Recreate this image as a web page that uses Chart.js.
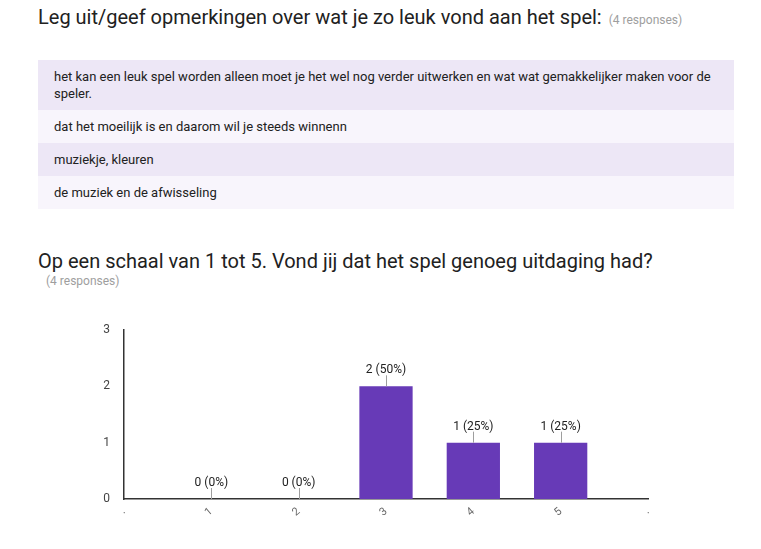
<!DOCTYPE html>
<html>
<head>
<meta charset="utf-8">
<script src="https://cdn.jsdelivr.net/npm/chart.js@4"></script>
<style>
  html, body { margin: 0; padding: 0; background: #fff; width: 761px; height: 549px; overflow: hidden; font-family: Roboto, "Noto Sans", sans-serif; color: #212121; }
  .title { position: absolute; left: 38px; font-size: 20px; white-space: nowrap; }
  .resp { color: #9e9e9e; font-size: 12px; }
  #t1 { top: 5px; }
  #t1 .resp { margin-left: 7px; }
  #rows { position: absolute; left: 38px; top: 60px; width: 696px; }
  .row { padding: 8px 16px; font-size: 13px; line-height: 17px; }
  .row:nth-child(odd) { background: #ede7f6; }
  .row:nth-child(even) { background: #f8f5fc; }
  #t2 { top: 249px; }
  #r2 { position: absolute; left: 46px; top: 274px; }
  #wrap { position: absolute; left: 0; top: 301px; width: 761px; height: 248px; }
</style>
</head>
<body>
<div class="title" id="t1">Leg uit/geef opmerkingen over wat je zo leuk vond aan het spel:<span class="resp">(4 responses)</span></div>
<div id="rows"></div>
<div class="title" id="t2">Op een schaal van 1 tot 5. Vond jij dat het spel genoeg uitdaging had?</div>
<div class="resp" id="r2">(4 responses)</div>
<div id="wrap"><canvas id="c"></canvas></div>
<script>
const responses = [
  "het kan een leuk spel worden alleen moet je het wel nog verder uitwerken en wat wat gemakkelijker maken voor de speler.",
  "dat het moeilijk is en daarom wil je steeds winnenn",
  "muziekje, kleuren",
  "de muziek en de afwisseling"
];
const tickLabels = [".", "1", "2", "3", "4", "5", "."];
const counts = [null, 0, 0, 2, 1, 1, null];
const yTicks = [0, 1, 2, 3];

const rowsEl = document.getElementById('rows');
responses.forEach(t => {
  const d = document.createElement('div');
  d.className = 'row';
  d.textContent = t;
  rowsEl.appendChild(d);
});

const total = counts.reduce((a, b) => a + (b || 0), 0);

const labelPlugin = {
  id: 'barLabels',
  afterDatasetsDraw(chart) {
    const ctx = chart.ctx;
    const meta = chart.getDatasetMeta(0);
    ctx.save();
    meta.data.forEach((el, i) => {
      const v = counts[i];
      if (v === null || v === undefined) return;
      const x = el.x, top = el.y;
      ctx.strokeStyle = '#9e9e9e';
      ctx.lineWidth = 1;
      ctx.beginPath();
      ctx.moveTo(Math.round(x) + 0.5, top - 11);
      ctx.lineTo(Math.round(x) + 0.5, top);
      ctx.stroke();
      ctx.fillStyle = '#222';
      ctx.font = '12px Roboto, "Noto Sans", sans-serif';
      ctx.textAlign = 'center';
      ctx.textBaseline = 'alphabetic';
      const pct = Math.round(v / total * 100);
      ctx.fillText(v + ' (' + pct + '%)', x, top - 13);
    });
    ctx.restore();
  }
};

new Chart(document.getElementById('c'), {
  type: 'bar',
  data: {
    labels: tickLabels,
    datasets: [{
      data: counts,
      backgroundColor: '#673ab7',
      borderWidth: 0,
      categoryPercentage: 1,
      barPercentage: 0.61
    }]
  },
  options: {
    responsive: true,
    maintainAspectRatio: false,
    animation: false,
    events: [],
    layout: { padding: { left: 94, right: 113, top: 29, bottom: 20 } },
    plugins: { legend: { display: false }, tooltip: { enabled: false } },
    scales: {
      x: {
        offset: false,
        grid: { display: false, drawTicks: false },
        border: { display: true, color: '#333', width: 1.5 },
        ticks: {
          color: '#666',
          font: { family: 'Roboto', size: 11 },
          minRotation: 40, maxRotation: 40,
          padding: 6,
          autoSkip: false
        },
        afterFit(s) { s.height = 30; }
      },
      y: {
        min: 0, max: 3,
        grid: { display: false, drawTicks: false },
        border: { display: true, color: '#333', width: 1.5 },
        afterBuildTicks(s) { s.ticks = yTicks.map(v => ({ value: v })); },
        ticks: {
          color: '#444',
          font: { family: 'Roboto', size: 12 },
          padding: 14
        },
        afterFit(s) { s.width = 30; }
      }
    }
  },
  plugins: [labelPlugin]
});
</script>
</body>
</html>
